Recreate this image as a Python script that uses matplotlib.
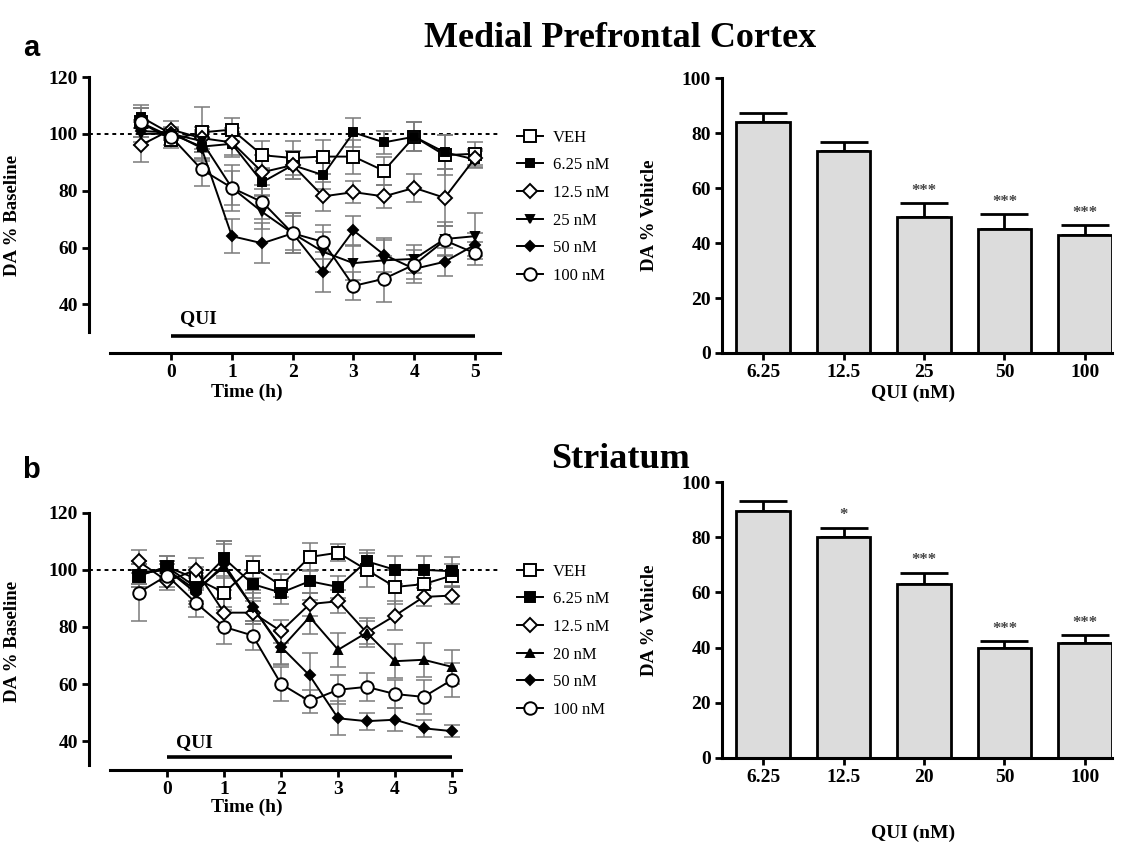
import numpy as np
import matplotlib
matplotlib.use("Agg")
import matplotlib.pyplot as plt

plt.rcParams['font.family'] = ['Liberation Serif', 'DejaVu Serif']
plt.rcParams['font.weight'] = 'bold'

# time points (h)
time_h = [-0.5, 0, 0.5, 1, 1.5, 2, 2.5, 3, 3.5, 4, 4.5, 5]

# medial prefrontal cortex, DA % baseline
pfc_labels = ['VEH', '6.25 nM', '12.5 nM', '25 nM', '50 nM', '100 nM']
pfc_veh = [104, 98, 100.5, 101.5, 92.5, 91.5, 92, 92, 87, 99, 92.5, 93]
pfc_625 = [106, 100, 95.5, 96.5, 83, 89, 85.5, 100.5, 97, 99, 93.5, 91]
pfc_125 = [96, 101.5, 98.5, 97, 86.5, 89, 78, 79.5, 78, 81, 77.5, 91.5]
pfc_25 = [100, 100, 97.5, 81, 72.5, 65, 58.5, 54.5, 55.5, 56, 63, 64]
pfc_50 = [101, 100.5, 95, 64, 61.5, 65, 51.5, 66, 57.5, 52.5, 55, 61]
pfc_100 = [104, 99, 87.5, 81, 76, 65, 62, 46.5, 49, 54, 62.5, 58]
pfc_veh_err = [5, 3, 9, 4, 5, 6, 6, 6, 5, 5, 7, 4]
pfc_625_err = [4, 2, 5, 4, 5, 5, 5, 5, 4, 5, 6, 3]
pfc_125_err = [6, 3, 4, 5, 6, 5, 5, 4, 4, 5, 10, 3]
pfc_25_err = [4, 2, 4, 6, 6, 7, 7, 6, 7, 5, 6, 8]
pfc_50_err = [4, 2, 4, 6, 7, 7, 7, 5, 6, 5, 5, 4]
pfc_100_err = [5, 3, 6, 8, 6, 6, 6, 5, 8, 5, 5, 4]

# striatum, DA % baseline
str_labels = ['VEH', '6.25 nM', '12.5 nM', '20 nM', '50 nM', '100 nM']
str_veh = [98, 101, 97, 92, 101, 94.5, 104.5, 106, 100, 94, 95, 98]
str_625 = [98, 101, 94, 104, 95, 92, 96, 94, 103, 100, 100, 99.5]
str_125 = [103, 96, 100, 85, 85, 78.5, 88, 89, 78, 84, 90.5, 91]
str_20 = [99, 100, 93, 101, 87, 72.5, 83.5, 72, 78, 68, 68.5, 66]
str_50 = [99, 100, 92, 102, 87, 73, 63, 48, 47, 47.5, 44.5, 43.5]
str_100 = [92, 98, 88.5, 80, 77, 60, 54, 58, 59, 56.5, 55.5, 61.5]
str_veh_err = [4, 4, 4, 5, 4, 4, 5, 3, 6, 6, 5, 4]
str_625_err = [4, 4, 5, 6, 5, 4, 4, 4, 4, 5, 5, 5]
str_125_err = [4, 3, 4, 5, 4, 4, 4, 4, 4, 5, 3, 3]
str_20_err = [4, 3, 5, 8, 5, 6, 6, 6, 5, 6, 6, 6]
str_50_err = [4, 3, 5, 8, 6, 6, 8, 6, 3, 4, 3, 2]
str_100_err = [10, 4, 5, 6, 5, 6, 4, 5, 5, 5, 6, 6]

# bar charts, DA % vehicle
pfc_doses = ['6.25', '12.5', '25', '50', '100']
pfc_bar = [84, 73.5, 49.5, 45, 43]
pfc_bar_err = [3.5, 3.5, 5, 5.5, 3.5]
pfc_stars = ['', '', '***', '***', '***']
str_doses = ['6.25', '12.5', '20', '50', '100']
str_bar = [89.5, 80, 63.2, 39.8, 41.6]
str_bar_err = [3.5, 3.5, 4, 2.6, 3]
str_stars = ['', '*', '***', '***', '***']

# marker style per series: (marker, filled, size)
pfc_styles = [('s', False, 8), ('s', True, 6), ('D', False, 7),
              ('v', True, 6), ('D', True, 5), ('o', False, 9)]
str_styles = [('s', False, 8), ('s', True, 7.5), ('D', False, 7),
              ('^', True, 6), ('D', True, 5), ('o', False, 9)]

fig = plt.figure(figsize=(11.4, 8.51), dpi=100)


def style_axes(ax):
    for s in ['top', 'right']:
        ax.spines[s].set_visible(False)
    for s in ['left', 'bottom']:
        ax.spines[s].set_linewidth(2.2)
    ax.tick_params(direction='out', length=5, width=2, labelsize=14, pad=3)
    for lab in ax.get_xticklabels() + ax.get_yticklabels():
        lab.set_fontweight('bold')


def line_panel(rect, means, errs, labels, styles, ylim, xlim, xspan, yspan,
               qui_y, qui_text_y, legend_y):
    ax = fig.add_axes(rect)
    ax.axhline(100, color='k', lw=1.4, ls=(0, (2, 2)), zorder=1)
    handles = []
    for m, e, lab, (mk, filled, ms) in zip(means, errs, labels, styles):
        ax.errorbar(time_h, m, yerr=e, fmt='none', ecolor='#7a7a7a',
                    elinewidth=1.1, capsize=5.5, capthick=1.1, zorder=2)
        h, = ax.plot(time_h, m, color='k', lw=1.4, marker=mk, ms=ms,
                     mfc='k' if filled else 'white', mec='k', mew=1.4,
                     zorder=3, label=lab)
        handles.append(h)
    ax.plot([0, 5], [qui_y, qui_y], color='k', lw=2.6, clip_on=False,
            solid_capstyle='butt')
    ax.text(0.15, qui_text_y, 'QUI', fontsize=14, fontweight='bold',
            ha='left', va='center')
    ax.set_xlim(*xlim)
    ax.set_ylim(*ylim)
    ax.set_xticks([0, 1, 2, 3, 4, 5])
    ax.set_yticks([40, 60, 80, 100, 120])
    ax.spines['left'].set_bounds(*yspan)
    ax.spines['bottom'].set_bounds(*xspan)
    style_axes(ax)
    ax.set_ylabel('DA % Baseline', fontsize=13.5, fontweight='bold')
    ax.yaxis.set_label_coords(-0.165, 0.5)
    ax.set_xlabel('Time (h)', fontsize=14, fontweight='bold', labelpad=6)
    ax.xaxis.set_label_coords(0.385, -0.11)
    ax.legend(handles=handles, loc='upper left', bbox_to_anchor=(1.02, legend_y),
              frameon=False, handlelength=1.6, handletextpad=0.6,
              labelspacing=0.7, borderpad=0,
              prop={'family': 'Liberation Serif', 'size': 12, 'weight': 'normal'})
    return ax


def bar_panel(rect, doses, vals, errs, stars):
    ax = fig.add_axes(rect)
    x = np.arange(len(doses))
    ax.bar(x, vals, width=0.67, color='#dcdcdc', edgecolor='k', lw=2, zorder=2)
    ax.errorbar(x, vals, yerr=[np.zeros(len(errs)), errs], fmt='none',
                ecolor='k', elinewidth=2, capsize=17, capthick=2, zorder=1)
    for xi, v, e, s in zip(x, vals, errs, stars):
        if s:
            ax.text(xi, v + e + 1.5, s, ha='center', va='bottom', fontsize=12,
                    color='#444444', fontweight='bold')
    ax.set_xlim(-0.51, 4.335)
    ax.set_ylim(0, 100)
    ax.set_xticks(x)
    ax.set_xticklabels(doses)
    ax.set_yticks([0, 20, 40, 60, 80, 100])
    style_axes(ax)
    ax.set_ylabel('DA % Vehicle', fontsize=13.5, fontweight='bold')
    ax.yaxis.set_label_coords(-0.165, 0.5)
    ax.set_xlabel('QUI (nM)', fontsize=14, fontweight='bold')
    return ax


# top row
line_panel([0.0781, 0.5852, 0.3605, 0.3243],
           [pfc_veh, pfc_625, pfc_125, pfc_25, pfc_50, pfc_100],
           [pfc_veh_err, pfc_625_err, pfc_125_err, pfc_25_err, pfc_50_err, pfc_100_err],
           pfc_labels, pfc_styles,
           ylim=(22.9, 120), xlim=(-1.35, 5.41), xspan=(-1.0, 5.41),
           yspan=(30.4, 120), qui_y=28.9, qui_text_y=35, legend_y=0.84)
ax_b1 = bar_panel([0.6333, 0.5852, 0.3421, 0.3226], pfc_doses, pfc_bar,
                  pfc_bar_err, pfc_stars)
ax_b1.xaxis.set_label_coords(0.49, -0.115)

# bottom row
line_panel([0.0781, 0.0952, 0.3605, 0.3023],
           [str_veh, str_625, str_125, str_20, str_50, str_100],
           [str_veh_err, str_625_err, str_125_err, str_20_err, str_50_err, str_100_err],
           str_labels, str_styles,
           ylim=(29.9, 120), xlim=(-1.37, 5.84), xspan=(-1.0, 5.15),
           yspan=(31.5, 120), qui_y=34.5, qui_text_y=39.5, legend_y=0.835)
ax_b2 = bar_panel([0.6333, 0.1093, 0.3421, 0.3243], str_doses, str_bar,
                  str_bar_err, str_stars)
ax_b2.xaxis.set_label_coords(0.49, -0.24)

fig.text(0.544, 0.955, 'Medial Prefrontal Cortex', fontsize=26,
         fontweight='bold', ha='center', va='center')
fig.text(0.544, 0.4595, 'Striatum', fontsize=26, fontweight='bold',
         ha='center', va='center')
fig.text(0.027, 0.944, 'a', fontsize=21, fontweight='bold', ha='center',
         va='center', family='Liberation Sans')
fig.text(0.027, 0.448, 'b', fontsize=21, fontweight='bold', ha='center',
         va='center', family='Liberation Sans')

fig.savefig('out.png', dpi=100)
